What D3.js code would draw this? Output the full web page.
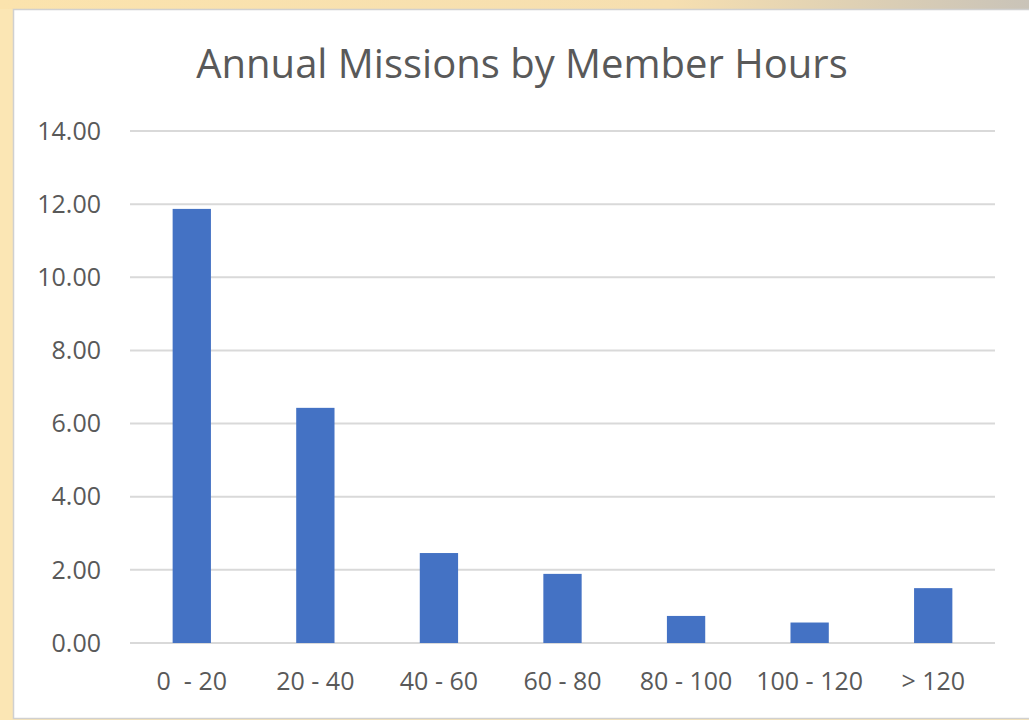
<!DOCTYPE html>
<html>
<head>
<meta charset="utf-8">
<script src="https://cdn.jsdelivr.net/npm/d3@7"></script>
<style>
  body { margin: 0; background: #fbe6b4; }
  svg { display: block; }
</style>
</head>
<body>
<div class="vis-barchart"></div>
<script>
const categories = ["0  - 20", "20 - 40", "40 - 60", "60 - 80", "80 - 100", "100 - 120", "> 120"];
const missions = [11.87, 6.43, 2.46, 1.89, 0.74, 0.56, 1.50];
const yTicks = [0, 2, 4, 6, 8, 10, 12, 14];

const width = 1029, height = 720;
const margin = { top: 131, right: 34, bottom: 77, left: 130 };

let svg = d3.select('.vis-barchart')
    .append('svg')
    .attr('width', width)
    .attr('height', height);

// frame: beige strips on top / left, white chart area
let grad = svg.append('defs').append('linearGradient')
    .attr('id', 'topband');
grad.append('stop').attr('offset', '0%').attr('stop-color', '#fbe3ad');
grad.append('stop').attr('offset', '65%').attr('stop-color', '#f6dfb0');
grad.append('stop').attr('offset', '100%').attr('stop-color', '#c9c3b8');

svg.append('rect')
    .attr('width', width).attr('height', height)
    .attr('fill', '#fbe6b4');
svg.append('rect')
    .attr('width', width).attr('height', 9)
    .attr('fill', 'url(#topband)');
svg.append('rect')
    .attr('x', 13.5).attr('y', 9.5)
    .attr('width', width).attr('height', height - 11)
    .attr('fill', '#ffffff')
    .attr('stroke', '#d0d0d0')
    .attr('stroke-width', 1.5);

let x = d3.scaleBand()
    .domain(categories)
    .range([margin.left, width - margin.right])
    .paddingInner(0.69)
    .paddingOuter(0.345);

let y = d3.scaleLinear()
    .domain([0, 14])
    .range([height - margin.bottom, margin.top]);

// gridlines
svg.append('g')
    .selectAll('line')
    .data(yTicks)
    .enter()
    .append('line')
    .attr('x1', margin.left)
    .attr('x2', width - margin.right)
    .attr('y1', d => y(d))
    .attr('y2', d => y(d))
    .attr('stroke', '#d9d9d9')
    .attr('stroke-width', 2);

// bars
svg.append('g')
    .selectAll('rect')
    .data(missions)
    .enter()
    .append('rect')
    .attr('x', (d, i) => x(categories[i]))
    .attr('width', x.bandwidth())
    .attr('y', d => y(d))
    .attr('height', d => y(0) - y(d))
    .attr('fill', '#4472c4');

// y labels
svg.append('g')
    .selectAll('text')
    .data(yTicks)
    .enter()
    .append('text')
    .attr('x', 101)
    .attr('y', d => y(d))
    .attr('dy', '0.35em')
    .attr('text-anchor', 'end')
    .style('font-family', 'Open Sans, sans-serif')
    .style('font-size', '25px')
    .attr('fill', '#595959')
    .text(d => d3.format('.2f')(d));

// x labels
svg.append('g')
    .selectAll('text')
    .data(categories)
    .enter()
    .append('text')
    .attr('x', d => x(d) + x.bandwidth() / 2)
    .attr('y', 681)
    .attr('dy', '0.35em')
    .attr('text-anchor', 'middle')
    .attr('xml:space', 'preserve')
    .style('white-space', 'pre')
    .style('font-family', 'Open Sans, sans-serif')
    .style('font-size', '25px')
    .attr('fill', '#595959')
    .text(d => d);

// title
svg.append('text')
    .attr('x', 522)
    .attr('y', 78)
    .attr('text-anchor', 'middle')
    .style('font-family', 'Open Sans, sans-serif')
    .style('font-size', '40px')
    .attr('fill', '#595959')
    .text('Annual Missions by Member Hours');
</script>
</body>
</html>
